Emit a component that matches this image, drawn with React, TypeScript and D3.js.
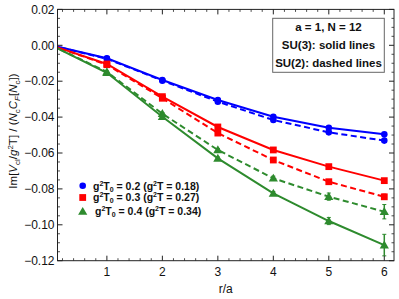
import * as d3 from "d3";

// r/a positions (r = 0 anchors each curve at the origin)
const rVals = [0, 1, 2, 3, 4, 5, 6];

// SU(3), solid lines
const su3Blue = [0, -0.0072, -0.0193, -0.0305, -0.0398, -0.0459, -0.0496];
const su3Red = [0, -0.0104, -0.0286, -0.0455, -0.0583, -0.0676, -0.0754];
const su3Green = [0, -0.0153, -0.0398, -0.063, -0.0825, -0.0979, -0.1113];
// SU(2), dashed lines
const su2Blue = [0, -0.0075, -0.0197, -0.0314, -0.0416, -0.0485, -0.0531];
const su2Red = [0, -0.0108, -0.0295, -0.0489, -0.0639, -0.076, -0.0844];
const su2Green = [0, -0.0148, -0.0381, -0.0583, -0.0741, -0.0843, -0.0927];
// error bars
const su3BlueErr = [0, 0.0004, 0.0005, 0.0005, 0.0006, 0.0007, 0.0008];
const su3RedErr = [0, 0.0004, 0.0005, 0.0006, 0.0007, 0.0008, 0.001];
const su3GreenErr = [0, 0.0005, 0.0006, 0.0008, 0.001, 0.002, 0.006];
const su2BlueErr = [0, 0.0004, 0.0005, 0.0005, 0.0006, 0.0008, 0.001];
const su2RedErr = [0, 0.0004, 0.0005, 0.0006, 0.0008, 0.001, 0.0015];
const su2GreenErr = [0, 0.0005, 0.0006, 0.0008, 0.0012, 0.002, 0.004];

const xTicks = [1, 2, 3, 4, 5, 6];
const yTicks = [0.02, 0, -0.02, -0.04, -0.06, -0.08, -0.1, -0.12];
const legendLabels = [
  ["0.2", "0.18"],
  ["0.3", "0.27"],
  ["0.4", "0.34"],
];
const boxLines = ["a = 1,  N = 12", "SU(3): solid lines", "SU(2): dashed lines"];

const W = 399,
  H = 299,
  left = 57.5,
  right = 394,
  top = 9.4,
  bottom = 260.7;

const BLUE = "#0000ff",
  RED = "#ff0000",
  GREEN = "#2e8b2e";
const font = "'Liberation Sans', Arial, sans-serif";

const x = d3.scaleLinear([0.11, 6.175], [left, right]);
const y = d3.scaleLinear([-0.12, 0.02], [bottom, top]);

type Series = {
  vals: number[];
  err: number[];
  color: string;
  marker: "circle" | "square" | "triangle";
  dashed: boolean;
};

const series: Series[] = [
  { vals: su2Blue, err: su2BlueErr, color: BLUE, marker: "circle", dashed: true },
  { vals: su2Red, err: su2RedErr, color: RED, marker: "square", dashed: true },
  { vals: su2Green, err: su2GreenErr, color: GREEN, marker: "triangle", dashed: true },
  { vals: su3Blue, err: su3BlueErr, color: BLUE, marker: "circle", dashed: false },
  { vals: su3Red, err: su3RedErr, color: RED, marker: "square", dashed: false },
  { vals: su3Green, err: su3GreenErr, color: GREEN, marker: "triangle", dashed: false },
];

function Marker({ kind, cx, cy, color }: { kind: string; cx: number; cy: number; color: string }) {
  if (kind === "circle") return <circle cx={cx} cy={cy} r={3.3} fill={color} />;
  if (kind === "square")
    return <rect x={cx - 3.4} y={cy - 3.4} width={6.8} height={6.8} fill={color} />;
  const s = 4.6;
  return (
    <path
      d={`M${cx},${cy - s}L${cx + s},${cy + s * 0.72}L${cx - s},${cy + s * 0.72}Z`}
      fill={color}
    />
  );
}

export default function App() {
  const line = d3
    .line<number>()
    .x((_, i) => x(rVals[i]))
    .y((d) => y(d));

  const xMinor = d3.range(0.2, 6.17, 0.2).filter((v) => Math.abs(v - Math.round(v)) > 0.01);
  const yMinor = d3.range(-0.12, 0.0201, 0.005).filter(
    (v) => Math.abs(v / 0.02 - Math.round(v / 0.02)) > 0.01
  );
  const frame = "#222";

  return (
    <svg
      width={W}
      height={H}
      style={{ position: "absolute", left: 0, top: 0, background: "#fff", whiteSpace: "pre" }}
      fontFamily={font}
    >
      <defs>
        <clipPath id="plotClip">
          <rect x={left} y={top} width={right - left} height={bottom - top} />
        </clipPath>
      </defs>

      {/* series */}
      <g clipPath="url(#plotClip)">
        {series.map((s, k) => (
          <g key={k}>
            <path
              d={line(s.vals) || ""}
              fill="none"
              stroke={s.color}
              strokeWidth={2}
              strokeDasharray={s.dashed ? "6,3.5" : undefined}
            />
            {s.vals.map((v, i) =>
              i === 0 ? null : (
                <g key={i}>
                  <line
                    x1={x(rVals[i])}
                    x2={x(rVals[i])}
                    y1={y(v - s.err[i])}
                    y2={y(v + s.err[i])}
                    stroke={s.color}
                    strokeWidth={1.5}
                  />
                  <line
                    x1={x(rVals[i]) - 2}
                    x2={x(rVals[i]) + 2}
                    y1={y(v - s.err[i])}
                    y2={y(v - s.err[i])}
                    stroke={s.color}
                    strokeWidth={1}
                  />
                  <line
                    x1={x(rVals[i]) - 2}
                    x2={x(rVals[i]) + 2}
                    y1={y(v + s.err[i])}
                    y2={y(v + s.err[i])}
                    stroke={s.color}
                    strokeWidth={1}
                  />
                  <Marker kind={s.marker} cx={x(rVals[i])} cy={y(v)} color={s.color} />
                </g>
              )
            )}
          </g>
        ))}
      </g>

      {/* frame */}
      <rect
        x={left}
        y={top}
        width={right - left}
        height={bottom - top}
        fill="none"
        stroke={frame}
        strokeWidth={1}
      />
      {xTicks.map((t) => (
        <g key={"xt" + t} stroke={frame}>
          <line x1={x(t)} x2={x(t)} y1={bottom} y2={bottom - 5} />
          <line x1={x(t)} x2={x(t)} y1={top} y2={top + 5} />
        </g>
      ))}
      {xMinor.map((t, i) => (
        <g key={"xm" + i} stroke={frame} strokeWidth={0.8}>
          <line x1={x(t)} x2={x(t)} y1={bottom} y2={bottom - 2.5} />
          <line x1={x(t)} x2={x(t)} y1={top} y2={top + 2.5} />
        </g>
      ))}
      {yTicks.map((t) => (
        <g key={"yt" + t} stroke={frame}>
          <line x1={left} x2={left + 5} y1={y(t)} y2={y(t)} />
          <line x1={right} x2={right - 5} y1={y(t)} y2={y(t)} />
        </g>
      ))}
      {yMinor.map((t, i) => (
        <g key={"ym" + i} stroke={frame} strokeWidth={0.8}>
          <line x1={left} x2={left + 2.5} y1={y(t)} y2={y(t)} />
          <line x1={right} x2={right - 2.5} y1={y(t)} y2={y(t)} />
        </g>
      ))}

      {/* tick labels */}
      {xTicks.map((t) => (
        <text key={"xl" + t} x={x(t)} y={276} fontSize={12} textAnchor="middle" fill="#111">
          {t}
        </text>
      ))}
      {yTicks.map((t) => (
        <text
          key={"yl" + t}
          x={54.5}
          y={y(t) + 4.2}
          fontSize={12}
          textAnchor="end"
          fill="#111"
        >
          {d3.format(".2f")(t).replace("-", "\u2212")}
        </text>
      ))}

      {/* axis titles */}
      <text x={(left + right) / 2} y={293} fontSize={12} textAnchor="middle" fill="#111">
        r/a
      </text>
      <text
        transform={`translate(17,${(top + bottom) / 2 - 4}) rotate(-90)`}
        fontSize={11.5}
        textAnchor="middle"
        fill="#111"
      >
        Im[<tspan fontStyle="italic">V</tspan>
        <tspan fontSize={8} dy={2.5}>cl</tspan>
        <tspan dy={-2.5}>/</tspan>
        <tspan fontStyle="italic">g</tspan>
        <tspan fontSize={8} dy={-4.5}>2</tspan>
        <tspan dy={4.5}>T] / (</tspan>
        <tspan fontStyle="italic">N</tspan>
        <tspan fontSize={8} dy={2.5}>c</tspan>
        <tspan fontStyle="italic" dy={-2.5}>C</tspan>
        <tspan fontSize={8} fontStyle="italic" dy={2.5}>F</tspan>
        <tspan dy={-2.5}>[</tspan>
        <tspan fontStyle="italic">N</tspan>
        <tspan fontSize={8} dy={2.5}>c</tspan>
        <tspan dy={-2.5}>])</tspan>
      </text>

      {/* top-right legend box */}
      <rect x={272.7} y={18.3} width={111.6} height={54} fill="#fff" stroke="#666" strokeWidth={1} />
      {boxLines.map((s, i) => (
        <text
          key={s}
          x={328.5}
          y={30.7 + i * 18.3}
          fontSize={11.5}
          fontWeight="bold"
          textAnchor="middle"
          fill="#111"
        >
          {s}
        </text>
      ))}

      {/* bottom-left legend */}
      {legendLabels.map((lab, i) => {
        const cy = [185.7, 197.5, 211.5][i];
        const marker = series[i].marker;
        const color = series[i].color;
        return (
          <g key={i}>
            <Marker kind={marker} cx={82.7} cy={cy} color={color} />
            <text x={i === 2 ? 95 : 93} y={cy + 3.8} fontSize={10.5} fontWeight="bold" fill="#111">
              g<tspan fontSize={7} dy={-4}>2</tspan>
              <tspan dy={4}>T</tspan>
              <tspan fontSize={7} dy={2}>0</tspan>
              <tspan dy={-2}>{"  = " + lab[0] + " (g"}</tspan>
              <tspan fontSize={7} dy={-4}>2</tspan>
              <tspan dy={4}>{"T = " + lab[1] + ")"}</tspan>
            </text>
          </g>
        );
      })}
    </svg>
  );
}
